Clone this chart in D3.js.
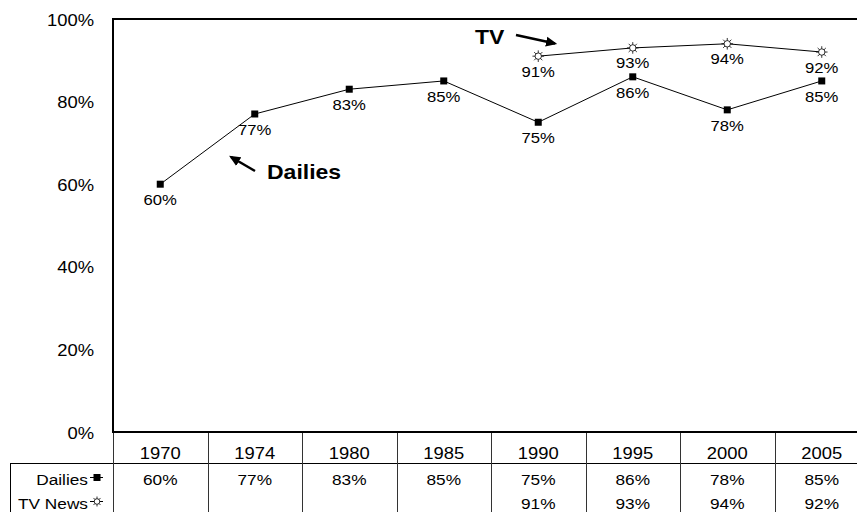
<!DOCTYPE html>
<html>
<head>
<meta charset="utf-8">
<script src="https://cdn.jsdelivr.net/npm/d3@7"></script>
<style>
  body { margin: 0; background: #fff; }
  svg { display: block; font-family: "Liberation Sans", Arial, sans-serif; }
</style>
</head>
<body>
<div id="chart"></div>
<script>
const years = ['1970', '1974', '1980', '1985', '1990', '1995', '2000', '2005'];
const dailies = [60, 77, 83, 85, 75, 86, 78, 85];
const tvNews = [null, null, null, null, 91, 93, 94, 92];
const yTicks = [0, 20, 40, 60, 80, 100];

const width = 857;
const height = 512;
const plot = { left: 113, top: 19, right: 869, bottom: 432 };
const stretch = 1.15; // text in the original is a bit wide

const svg = d3.select('#chart').append('svg')
    .attr('width', width)
    .attr('height', height);

const xScale = d3.scaleBand()
    .domain(years)
    .range([plot.left, plot.right])
    .padding(0);

const yScale = d3.scaleLinear()
    .domain([0, 100])
    .range([plot.bottom, plot.top]);

const cx = (i) => xScale(years[i]) + xScale.bandwidth() / 2;

// put text at x,y with the horizontal stretch
function label(g, x, y, txt, size, anchor, bold) {
    return g.append('text')
        .attr('transform', `translate(${x},${y}) scale(${stretch},1)`)
        .attr('text-anchor', anchor)
        .attr('font-size', size)
        .attr('font-weight', bold ? 'bold' : null)
        .text(txt);
}

// y axis labels, no tick marks
const yG = svg.append('g');
yTicks.forEach((t) => label(yG, 94, yScale(t) + 6.5, t + '%', 16, 'end'));

// table lines
const table = svg.append('g').attr('stroke', '#000').attr('fill', 'none');
table.append('line')
    .attr('x1', 10).attr('x2', width).attr('y1', 463.5).attr('y2', 463.5)
    .attr('stroke-width', 1);
table.append('line')
    .attr('x1', 10.5).attr('x2', 10.5).attr('y1', 463).attr('y2', height)
    .attr('stroke-width', 1);
years.forEach((y) => {
    table.append('line')
        .attr('x1', Math.round(xScale(y)) + 0.5).attr('x2', Math.round(xScale(y)) + 0.5)
        .attr('y1', plot.bottom).attr('y2', height)
        .attr('stroke-width', 1)
        .attr('stroke', '#333');
});

// plot frame (top, left, bottom)
svg.append('path')
    .attr('d', `M${width + 5},${plot.top} H${plot.left} V${plot.bottom} H${width + 5}`)
    .attr('fill', 'none')
    .attr('stroke', '#000')
    .attr('stroke-width', 2);

// year labels in the table header
const hdr = svg.append('g');
years.forEach((d, i) => label(hdr, cx(i), 459, d, 16, 'middle'));

// table rows
const rows = [
    { name: 'Dailies', values: dailies, y: 485 },
    { name: 'TV News', values: tvNews, y: 509 },
];
rows.forEach((row) => {
    const g = svg.append('g');
    row.values.forEach((v, i) => {
        if (v != null) label(g, cx(i), row.y, v + '%', 15, 'middle');
    });
    label(g, 88, row.y, row.name, 15, 'end');
});

// sun marker path
function sunPath(r, ray) {
    let p = d3.path();
    p.arc(0, 0, r, 0, Math.PI * 2);
    for (let k = 0; k < 8; k++) {
        const a = (k * Math.PI) / 4;
        p.moveTo(Math.cos(a) * r, Math.sin(a) * r);
        p.lineTo(Math.cos(a) * ray, Math.sin(a) * ray);
    }
    return p.toString();
}

// legend keys in table
const leg = svg.append('g').attr('stroke', '#000');
leg.append('line').attr('x1', 90).attr('x2', 103).attr('y1', 477.5).attr('y2', 477.5);
leg.append('rect').attr('x', 94).attr('y', 474.5).attr('width', 6).attr('height', 6).attr('fill', '#000');
leg.append('line').attr('x1', 90).attr('x2', 103).attr('y1', 501.5).attr('y2', 501.5);
leg.append('path').attr('d', sunPath(2.8, 5)).attr('transform', 'translate(97,501.5)')
    .attr('fill', '#fff').attr('stroke-width', 0.8);

// lines
const line = d3.line()
    .defined((d) => d != null)
    .x((d, i) => cx(i))
    .y((d) => yScale(d));

svg.append('path').datum(dailies).attr('d', line)
    .attr('fill', 'none').attr('stroke', '#000').attr('stroke-width', 1);
svg.append('path').datum(tvNews).attr('d', line)
    .attr('fill', 'none').attr('stroke', '#000').attr('stroke-width', 1);

// dailies markers + labels
const dG = svg.append('g');
dailies.forEach((v, i) => {
    dG.append('rect')
        .attr('x', cx(i) - 3.5).attr('y', yScale(v) - 3.5)
        .attr('width', 7).attr('height', 7).attr('fill', '#000');
    label(dG, cx(i), yScale(v) + 21, v + '%', 14.5, 'middle');
});

// tv markers + labels
const tG = svg.append('g');
tvNews.forEach((v, i) => {
    if (v == null) return;
    tG.append('path')
        .attr('d', sunPath(3.2, 5.8))
        .attr('transform', `translate(${cx(i)},${yScale(v)})`)
        .attr('fill', '#fff').attr('stroke', '#000').attr('stroke-width', 0.8);
    label(tG, cx(i), yScale(v) + 20.5, v + '%', 14.5, 'middle');
});

// annotations
svg.append('defs').append('marker')
    .attr('id', 'arrow')
    .attr('viewBox', '0 0 10 10')
    .attr('refX', 8).attr('refY', 5)
    .attr('markerWidth', 4.5).attr('markerHeight', 4.5)
    .attr('orient', 'auto')
    .append('path').attr('d', 'M0,0.5 L10,5 L0,9.5 z').attr('fill', '#000');

label(svg, 475, 44, 'TV', 20, 'start', true);
svg.append('line')
    .attr('x1', 516).attr('y1', 35).attr('x2', 555).attr('y2', 43.5)
    .attr('stroke', '#000').attr('stroke-width', 2.5)
    .attr('marker-end', 'url(#arrow)');

label(svg, 267, 179, 'Dailies', 20, 'start', true);
svg.append('line')
    .attr('x1', 255).attr('y1', 171).attr('x2', 231).attr('y2', 157)
    .attr('stroke', '#000').attr('stroke-width', 2.5)
    .attr('marker-end', 'url(#arrow)');
</script>
</body>
</html>
